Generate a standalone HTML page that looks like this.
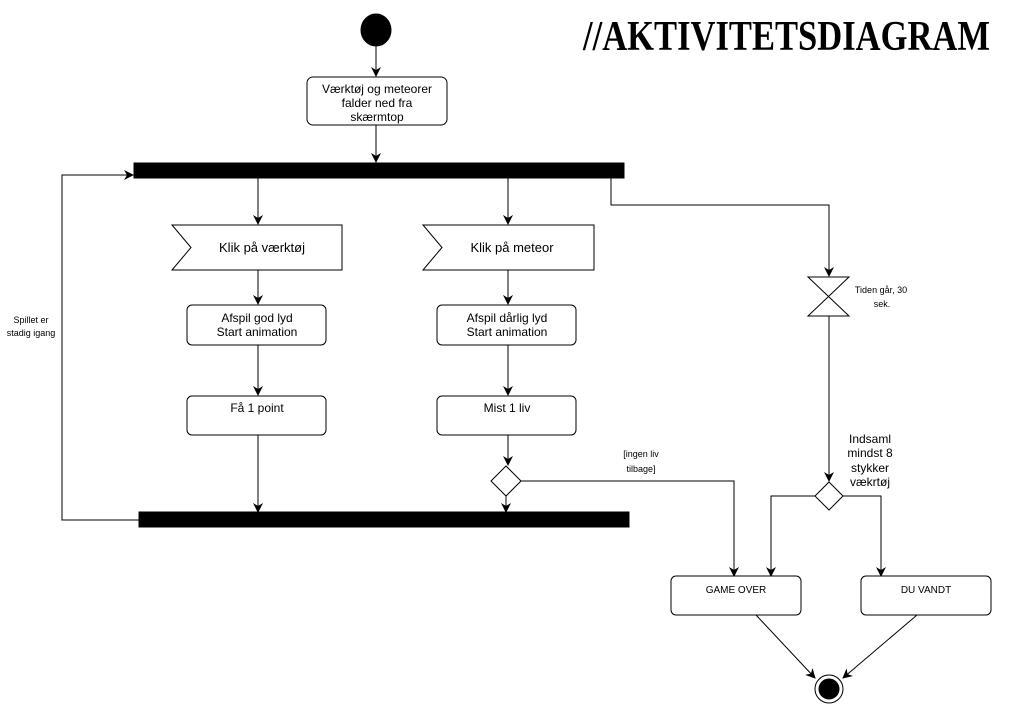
<!DOCTYPE html>
<html><head><meta charset="utf-8"><style>
html,body{margin:0;padding:0;background:#fff;width:1011px;height:711px;overflow:hidden}
svg{display:block}
text{font-family:"Liberation Sans",sans-serif;fill:#000}
</style></head><body>
<svg width="1011" height="711" viewBox="0 0 1011 711" xmlns="http://www.w3.org/2000/svg">
<defs>
<marker id="a" markerWidth="10" markerHeight="10" refX="9" refY="5" orient="auto" markerUnits="userSpaceOnUse">
<path d="M0,0 L10,5 L0,10 L3,5 Z" fill="#000"/>
</marker>
</defs>
<g stroke="#000" stroke-width="1" fill="none">
<ellipse cx="376" cy="30" rx="15" ry="16" fill="#000"/>
<line x1="376" y1="46" x2="376" y2="76" marker-end="url(#a)"/>
<rect x="307" y="77" width="140" height="48" rx="6" fill="#fff"/>
<line x1="376" y1="125" x2="376" y2="162" marker-end="url(#a)"/>
<rect x="134" y="163" width="490" height="15" fill="#000"/>
<polyline points="139,520 62,520 62,175 133,175" marker-end="url(#a)"/>
<line x1="258" y1="178" x2="258" y2="224" marker-end="url(#a)"/>
<line x1="508" y1="178" x2="508" y2="224" marker-end="url(#a)"/>
<polyline points="611,178 611,205 829,205 829,276" marker-end="url(#a)"/>
<polygon points="172,225 342,225 342,270 172,270 191,247.5" fill="#fff"/>
<polygon points="423,225 594,225 594,270 423,270 442,247.5" fill="#fff"/>
<line x1="258" y1="270" x2="258" y2="304" marker-end="url(#a)"/>
<line x1="508" y1="270" x2="508" y2="304" marker-end="url(#a)"/>
<rect x="187" y="305" width="139" height="40" rx="5" fill="#fff"/>
<rect x="437" y="305" width="139" height="40" rx="5" fill="#fff"/>
<line x1="258" y1="345" x2="258" y2="395" marker-end="url(#a)"/>
<line x1="508" y1="345" x2="508" y2="395" marker-end="url(#a)"/>
<rect x="187" y="396" width="139" height="39" rx="5" fill="#fff"/>
<rect x="437" y="396" width="139" height="39" rx="5" fill="#fff"/>
<line x1="258" y1="435" x2="258" y2="512" marker-end="url(#a)"/>
<line x1="508" y1="435" x2="508" y2="465" marker-end="url(#a)"/>
<polygon points="506,466 521,481 506,496 491,481" fill="#fff"/>
<line x1="506" y1="496" x2="506" y2="512" marker-end="url(#a)"/>
<rect x="139" y="512" width="490" height="15" fill="#000"/>
<polyline points="521,481 734,481 734,576" marker-end="url(#a)"/>
<polygon points="808,277 849,277 808,316 849,316" fill="#fff"/>
<line x1="829" y1="316" x2="829" y2="481" marker-end="url(#a)"/>
<polygon points="829,482 843,496 829,510 815,496" fill="#fff"/>
<polyline points="815,496 771,496 771,576" marker-end="url(#a)"/>
<polyline points="843,496 881,496 881,576" marker-end="url(#a)"/>
<rect x="671" y="576" width="130" height="39" rx="5" fill="#fff"/>
<rect x="861" y="576" width="130" height="39" rx="5" fill="#fff"/>
<line x1="756" y1="615" x2="815" y2="678" marker-end="url(#a)"/>
<line x1="917" y1="615" x2="843" y2="678" marker-end="url(#a)"/>
<circle cx="829" cy="689" r="14" fill="#fff"/>
<circle cx="829" cy="689" r="10" fill="#000"/>
</g>
<text x="583" y="50" font-size="42" font-weight="bold" textLength="407" lengthAdjust="spacingAndGlyphs" style="font-family:'Liberation Serif',serif">//AKTIVITETSDIAGRAM</text>
<g font-size="12" text-anchor="middle">
<text x="377" y="93">Værktøj og meteorer</text>
<text x="377" y="107">falder ned fra</text>
<text x="377" y="121">skærmtop</text>
<text x="262" y="252" font-size="13">Klik på værktøj</text>
<text x="512" y="252" font-size="13">Klik på meteor</text>
<text x="257" y="322">Afspil god lyd</text>
<text x="257" y="336">Start animation</text>
<text x="507" y="322">Afspil dårlig lyd</text>
<text x="507" y="336">Start animation</text>
<text x="257" y="412">Få 1 point</text>
<text x="507" y="412">Mist 1 liv</text>
<text x="736" y="593" font-size="10">GAME OVER</text>
<text x="926" y="593" font-size="10">DU VANDT</text>
<text x="31" y="323" font-size="9">Spillet er</text>
<text x="31" y="336" font-size="9">stadig igang</text>
<text x="641" y="457" font-size="9">[ingen liv</text>
<text x="641" y="472" font-size="9">tilbage]</text>
<text x="881" y="293" font-size="9">Tiden går, 30</text>
<text x="882" y="307" font-size="9">sek.</text>
<text x="870" y="443">Indsaml</text>
<text x="870" y="457">mindst 8</text>
<text x="870" y="472">stykker</text>
<text x="870" y="486">vækrtøj</text>
</g>
</svg>
</body></html>
